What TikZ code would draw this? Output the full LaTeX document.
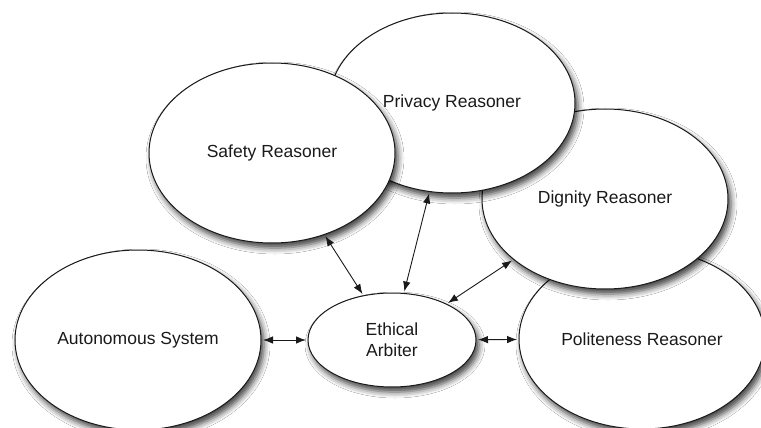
\documentclass[tikz,border=0pt]{standalone}
\usepackage{fontspec}
\setmainfont{Liberation Sans}
\usetikzlibrary{shapes.geometric,shadows.blur,arrows.meta}
\definecolor{ink}{HTML}{1A1A1A}
\begin{document}
\begin{tikzpicture}[x=1pt,y=-1pt,
  bubble/.style={ellipse, draw=ink, line width=1pt, fill=white, inner sep=0pt,
    minimum width=246pt, minimum height=180pt, text=ink,
    font=\fontsize{17.5}{21}\selectfont, align=center,
    blur shadow={shadow xshift=3pt, shadow yshift=-5pt, shadow blur radius=6pt, shadow opacity=75}},
  small/.style={bubble, minimum width=168pt, minimum height=94pt},
  link/.style={draw=ink, line width=0.9pt, {Latex[length=10pt,width=7.5pt]}-{Latex[length=10pt,width=7.5pt]}, shorten <=1.5pt, shorten >=1.5pt}]
\useasboundingbox (0,0) rectangle (761,428);
\fill[white] (0,0) rectangle (761,428);
% reasoners, back to front
\node[bubble] (pol) at (642,339) {Politeness Reasoner};
\node[bubble] (dig) at (605,199) {Dignity Reasoner};
\node[bubble] (pri) at (452,103) {Privacy Reasoner};
\node[bubble] (saf) at (272,153) {Safety Reasoner};
\node[bubble] (aut) at (138,340) {Autonomous System};
\node[small] (arb) at (392,340) {Ethical\\Arbiter};
% links to the arbiter
\draw[link] (aut) -- (arb);
\draw[link] (arb) -- (pol);
\draw[link] (saf) -- (arb);
\draw[link] (pri) -- (arb);
\draw[link] (dig) -- (arb);
\end{tikzpicture}
\end{document}
